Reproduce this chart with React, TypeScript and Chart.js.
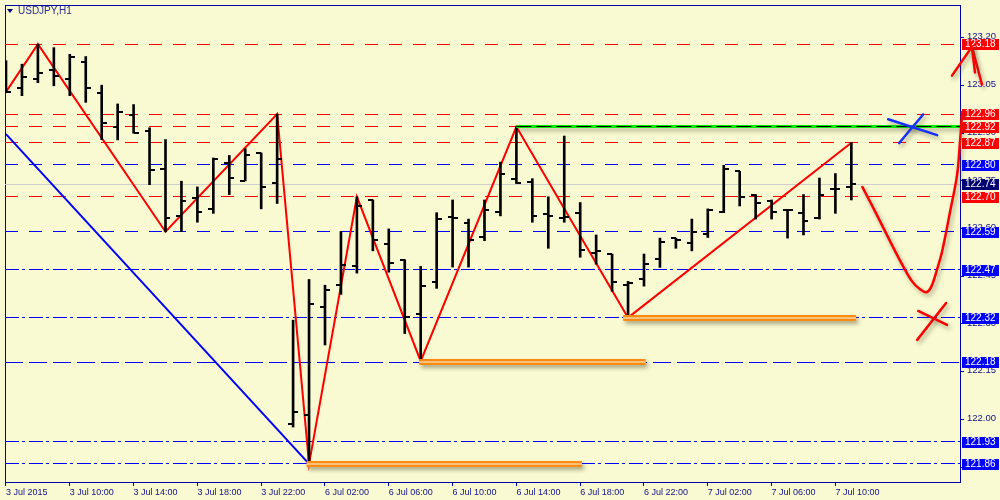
import React, { useEffect, useRef } from 'react';
import { Chart, registerables } from 'chart.js';

Chart.register(...registerables);

// ---------- DATA ----------
const BAR_TIMES = [
  '3 Jul 06:00', '3 Jul 07:00', '3 Jul 08:00', '3 Jul 09:00', '3 Jul 10:00', '3 Jul 11:00',
  '3 Jul 12:00', '3 Jul 13:00', '3 Jul 14:00', '3 Jul 15:00', '3 Jul 16:00', '3 Jul 17:00',
  '3 Jul 18:00', '3 Jul 19:00', '3 Jul 20:00', '3 Jul 21:00', '3 Jul 22:00', '3 Jul 23:00',
  '6 Jul 00:00', '6 Jul 01:00', '6 Jul 02:00', '6 Jul 03:00', '6 Jul 04:00', '6 Jul 05:00',
  '6 Jul 06:00', '6 Jul 07:00', '6 Jul 08:00', '6 Jul 09:00', '6 Jul 10:00', '6 Jul 11:00',
  '6 Jul 12:00', '6 Jul 13:00', '6 Jul 14:00', '6 Jul 15:00', '6 Jul 16:00', '6 Jul 17:00',
  '6 Jul 18:00', '6 Jul 19:00', '6 Jul 20:00', '6 Jul 21:00', '6 Jul 22:00', '6 Jul 23:00',
  '7 Jul 00:00', '7 Jul 01:00', '7 Jul 02:00', '7 Jul 03:00', '7 Jul 04:00', '7 Jul 05:00',
  '7 Jul 06:00', '7 Jul 07:00', '7 Jul 08:00', '7 Jul 09:00', '7 Jul 10:00', '7 Jul 11:00',
];

const OPEN = [
  123.091, 123.042, 123.070, 123.098, 123.070, 123.125, 123.025, 122.919, 122.958, 122.906,
  122.788, 122.641, 122.697, 122.663, 122.807, 122.750, 122.838, 122.742, 121.987, 122.015,
  122.354, 122.424, 122.481, 122.690, 122.551, 122.502, 122.332, 122.432, 122.638, 122.619,
  122.572, 122.651, 122.757, 122.747, 122.646, 122.632, 122.648, 122.523, 122.520, 122.424,
  122.442, 122.505, 122.570, 122.554, 122.582, 122.651, 122.780, 122.707, 122.688, 122.660,
  122.648, 122.632, 122.723, 122.731,
];
const HIGH = [
  123.128, 123.117, 123.180, 123.169, 123.148, 123.141, 123.051, 122.992, 122.990, 122.917,
  122.880, 122.749, 122.731, 122.822, 122.830, 122.851, 122.838, 122.960, 122.312, 122.440,
  122.422, 122.591, 122.700, 122.690, 122.599, 122.502, 122.481, 122.650, 122.690, 122.630,
  122.690, 122.809, 122.920, 122.757, 122.700, 122.891, 122.682, 122.580, 122.520, 122.434,
  122.520, 122.570, 122.570, 122.630, 122.662, 122.799, 122.780, 122.707, 122.690, 122.660,
  122.707, 122.759, 122.773, 122.870,
];
const LOW = [
  123.028, 123.018, 123.059, 123.049, 123.018, 122.997, 122.880, 122.879, 122.900, 122.738,
  122.590, 122.591, 122.620, 122.648, 122.707, 122.750, 122.662, 122.679, 121.976, 121.860,
  122.234, 122.393, 122.460, 122.530, 122.463, 122.270, 122.183, 122.412, 122.479, 122.479,
  122.562, 122.640, 122.742, 122.620, 122.538, 122.620, 122.510, 122.488, 122.403, 122.320,
  122.419, 122.478, 122.538, 122.530, 122.572, 122.650, 122.671, 122.630, 122.630, 122.570,
  122.580, 122.630, 122.648, 122.690,
];
const CLOSE = [
  123.031, 123.077, 123.088, 123.080, 123.140, 123.042, 122.932, 122.966, 122.900, 122.783,
  122.632, 122.688, 122.651, 122.820, 122.759, 122.830, 122.731, 122.820, 122.023, 122.362,
  122.408, 122.487, 122.672, 122.563, 122.492, 122.323, 122.419, 122.629, 122.632, 122.563,
  122.660, 122.771, 122.742, 122.641, 122.641, 122.638, 122.533, 122.528, 122.432, 122.429,
  122.488, 122.559, 122.565, 122.588, 122.660, 122.788, 122.700, 122.682, 122.651, 122.660,
  122.624, 122.707, 122.723, 122.740,
];

const X_TICK_INDEX = [0, 4, 8, 12, 16, 20, 24, 28, 32, 36, 40, 44, 48, 52];
const X_TICK_LABELS = [
  '3 Jul 2015', '3 Jul 10:00', '3 Jul 14:00', '3 Jul 18:00', '3 Jul 22:00', '6 Jul 02:00',
  '6 Jul 06:00', '6 Jul 10:00', '6 Jul 14:00', '6 Jul 18:00', '6 Jul 22:00', '7 Jul 02:00',
  '7 Jul 06:00', '7 Jul 10:00',
];
const Y_TICKS = [123.2, 123.05, 122.9, 122.75, 122.6, 122.45, 122.3, 122.15, 122.0, 121.85];

// horizontal levels
const RED_LEVELS = [123.18, 122.96, 122.92, 122.87, 122.7];
const BLUE_DASH_LEVELS = [122.8, 122.59];
const BLUE_LONGDASH_LEVELS = [122.18];
const BLUE_DASHDOT_LEVELS = [122.47, 122.32, 121.93, 121.86];
const BID_PRICE = 122.74;

// zigzag
const ZIGZAG_IDX = [0, 2, 10, 17, 19, 22, 26, 32, 39, 53];
const ZIGZAG_PRICE = [123.03, 123.18, 122.59, 122.96, 121.86, 122.7, 122.183, 122.92, 122.32, 122.87];

// blue trend line
const TREND_IDX = [0, 19];
const TREND_PRICE = [122.897, 121.86];

// green/black resistance line
const GREEN_FROM = 32;
const GREEN_PRICE = 122.92;

// orange support bars
const ORANGE_PRICE = [121.86, 122.18, 122.32];
const ORANGE_FROM = [18.85, 25.9, 38.7];
const ORANGE_TO = [36.1, 40.1, 53.3];

// hand-drawn annotations (bar index, price)
const CURVE_IDX = [53.69, 54.56, 55.44, 56.25, 56.81, 57.31, 57.69, 58.0, 58.375, 58.69, 59.19, 59.63, 59.81, 59.94, 60.0, 60.19, 60.56];
const CURVE_PRICE = [122.731, 122.647, 122.559, 122.481, 122.434, 122.409, 122.4, 122.416, 122.472, 122.528, 122.653, 122.769, 122.872, 122.966, 123.05, 123.122, 123.172];
const ARROW_L_IDX = [59.31, 60.56];
const ARROW_L_PRICE = [123.081, 123.172];
const ARROW_R_IDX = [60.56, 60.75];
const ARROW_R_PRICE = [123.172, 123.091];
const ARROW_R2_IDX = [60.56, 61.19];
const ARROW_R2_PRICE = [123.172, 123.053];
const RED_X1_IDX = [57.19, 59.0];
const RED_X1_PRICE = [122.341, 122.297];
const RED_X2_IDX = [57.13, 58.94];
const RED_X2_PRICE = [122.25, 122.366];
const BLUE_X1_IDX = [55.31, 58.38];
const BLUE_X1_PRICE = [122.944, 122.894];
const BLUE_X2_IDX = [56.0, 57.5];
const BLUE_X2_PRICE = [122.869, 122.959];

const X_MIN = -0.0625;
const X_MAX = 59.8125;
const Y_MIN = 121.803125;
const Y_MAX = 123.303125;

// ---------- STYLE ----------
const BG = '#FAFAD2';
const NAVY = '#10108C';
const FONT = 'Liberation Sans';

const pts = (xs: number[], ys: number[]) => xs.map((x, i) => ({ x, y: ys[i] }));

export default function App() {
  const ref = useRef<HTMLCanvasElement>(null);

  useEffect(() => {
    const canvas = ref.current;
    if (!canvas) return;

    const mkTick = (left: boolean) => {
      const c = document.createElement('canvas');
      c.width = 10;
      c.height = 2;
      const g = c.getContext('2d')!;
      g.fillStyle = '#000';
      if (left) g.fillRect(0, 0, 5, 2);
      else g.fillRect(5, 0, 5, 2);
      return c;
    };
    const openImg = mkTick(true);
    const closeImg = mkTick(false);

    const lineBase = {
      type: 'line' as const,
      pointRadius: 0,
      fill: false,
      tension: 0,
      borderCapStyle: 'butt' as const,
    };

    const level = (p: number, color: string, dash: number[]) => ({
      ...lineBase,
      data: [{ x: X_MIN, y: p }, { x: X_MAX, y: p }],
      borderColor: color,
      borderWidth: 1,
      borderDash: dash,
      snapY: p,
    });

    const annot = (xs: number[], ys: number[], color: string, w: number, tension = 0) => ({
      ...lineBase,
      data: pts(xs, ys),
      borderColor: color,
      borderWidth: w,
      tension,
      clip: false,
      borderCapStyle: 'round' as const,
      shadow: true,
    });

    const datasets: any[] = [
      annot(CURVE_IDX, CURVE_PRICE, '#FF0000', 2.5, 0.35),
      annot(ARROW_L_IDX, ARROW_L_PRICE, '#FF0000', 2.5),
      annot(ARROW_R_IDX, ARROW_R_PRICE, '#FF0000', 2.5),
      annot(ARROW_R2_IDX, ARROW_R2_PRICE, '#FF0000', 2.5),
      annot(RED_X1_IDX, RED_X1_PRICE, '#FF0000', 2.5),
      annot(RED_X2_IDX, RED_X2_PRICE, '#FF0000', 2.5),
      annot(BLUE_X1_IDX, BLUE_X1_PRICE, '#1530FF', 2.5),
      annot(BLUE_X2_IDX, BLUE_X2_PRICE, '#1530FF', 2.5),
    ];

    ORANGE_PRICE.forEach((p, i) => {
      datasets.push({
        ...lineBase,
        data: [{ x: ORANGE_FROM[i], y: p }, { x: ORANGE_TO[i], y: p }],
        borderColor: '#F7C27E',
        borderWidth: 2,
        snapY: p,
      });
    });
    ORANGE_PRICE.forEach((p, i) => {
      datasets.push({
        ...lineBase,
        data: [{ x: ORANGE_FROM[i], y: p }, { x: ORANGE_TO[i], y: p }],
        borderColor: '#FF8A10',
        borderWidth: 6,
        shadow: true,
        snapY: p,
      });
    });

    datasets.push({
      ...lineBase,
      data: [{ x: GREEN_FROM, y: GREEN_PRICE }, { x: X_MAX, y: GREEN_PRICE }],
      borderColor: '#000000',
      borderWidth: 1,
      borderDash: [15, 5],
      snapY: GREEN_PRICE,
    });
    datasets.push({
      ...lineBase,
      data: [{ x: GREEN_FROM, y: GREEN_PRICE }, { x: X_MAX, y: GREEN_PRICE }],
      borderColor: '#00F000',
      borderWidth: 3,
      shadow: true,
      snapY: GREEN_PRICE,
    });

    datasets.push({
      type: 'line',
      showLine: false,
      data: OPEN.map((o, i) => ({ x: i, y: o })),
      pointStyle: openImg,
      pointRadius: 3,
      crisp: true,
    });
    datasets.push({
      type: 'line',
      showLine: false,
      data: CLOSE.map((c, i) => ({ x: i, y: c })),
      pointStyle: closeImg,
      pointRadius: 3,
      crisp: true,
    });
    datasets.push({
      type: 'bar',
      data: LOW.map((l, i) => ({ x: i, y: [l, HIGH[i]] })),
      backgroundColor: '#000000',
      borderWidth: 0,
      barThickness: 2,
      grouped: false,
    });

    datasets.push({
      ...lineBase,
      data: pts(ZIGZAG_IDX, ZIGZAG_PRICE),
      borderColor: '#FF0000',
      borderWidth: 2,
    });
    datasets.push({
      ...lineBase,
      data: pts(TREND_IDX, TREND_PRICE),
      borderColor: '#0000FF',
      borderWidth: 2,
    });

    RED_LEVELS.forEach((p) => datasets.push(level(p, '#FF0000', [13, 11])));
    BLUE_DASH_LEVELS.forEach((p) => datasets.push(level(p, '#0000FF', [13, 11])));
    BLUE_LONGDASH_LEVELS.forEach((p) => datasets.push(level(p, '#0000FF', [18, 6])));
    BLUE_DASHDOT_LEVELS.forEach((p) => datasets.push(level(p, '#0000FF', [14, 3, 3, 4])));
    datasets.push(level(BID_PRICE, '#CDCDCD', []));

    const tags: [number, string][] = [
      ...RED_LEVELS.map((p) => [p, '#FF0000'] as [number, string]),
      ...BLUE_DASH_LEVELS.map((p) => [p, '#0000FF'] as [number, string]),
      ...BLUE_LONGDASH_LEVELS.map((p) => [p, '#0000FF'] as [number, string]),
      ...BLUE_DASHDOT_LEVELS.map((p) => [p, '#0000FF'] as [number, string]),
      [BID_PRICE, '#000070'],
    ];

    const chartPlugins: any[] = [
      {
        id: 'bg',
        beforeDraw(chart: any) {
          const ctx = chart.ctx;
          ctx.save();
          ctx.fillStyle = BG;
          ctx.fillRect(0, 0, chart.width, chart.height);
          ctx.restore();
        },
      },
      {
        id: 'frameTags',
        beforeDatasetsDraw(chart: any) {
          const ctx = chart.ctx;
          const a = chart.chartArea;
          const ys = chart.scales.y;
          ctx.save();
          ctx.strokeStyle = '#0000A8';
          ctx.lineWidth = 1;
          ctx.strokeRect(a.left + 0.5, a.top + 0.5, a.right - a.left, a.bottom - a.top);
          ctx.font = `10px "${FONT}"`;
          ctx.textBaseline = 'middle';
          ctx.textAlign = 'left';
          tags.forEach(([p, color]) => {
            const py = Math.round(ys.getPixelForValue(p));
            ctx.fillStyle = color;
            ctx.fillRect(a.right + 2, py - 5, 37, 11);
            ctx.fillStyle = '#FFFFFF';
            ctx.fillText(p.toFixed(2), a.right + 5, py + 0.5);
          });
          ctx.restore();
        },
      },
      {
        id: 'shadowCrispSnap',
        beforeDatasetDraw(chart: any, args: any) {
          const ds = chart.data.datasets[args.index];
          if (ds.shadow || ds.crisp || ds.snapY !== undefined) {
            const ctx = chart.ctx;
            ctx.save();
            if (ds.shadow) {
              ctx.shadowColor = 'rgba(70,70,40,0.45)';
              ctx.shadowBlur = 4;
              ctx.shadowOffsetX = 2;
              ctx.shadowOffsetY = 3;
            }
            if (ds.crisp) ctx.imageSmoothingEnabled = false;
            if (ds.snapY !== undefined) {
              const py = chart.scales.y.getPixelForValue(ds.snapY);
              const w = ds.borderWidth || 1;
              const target = w % 2 === 1 ? Math.round(py - 0.5) + 0.5 : Math.round(py);
              ctx.translate(0, target - py);
            }
          }
        },
        afterDatasetDraw(chart: any, args: any) {
          const ds = chart.data.datasets[args.index];
          if (ds.shadow || ds.crisp || ds.snapY !== undefined) chart.ctx.restore();
        },
      },
      {
        id: 'title',
        afterDraw(chart: any) {
          const ctx = chart.ctx;
          ctx.save();
          ctx.fillStyle = '#000070';
          ctx.beginPath();
          ctx.moveTo(7, 9);
          ctx.lineTo(13, 9);
          ctx.lineTo(10, 13);
          ctx.closePath();
          ctx.fill();
          ctx.fillStyle = '#2A2A90';
          ctx.font = `10px "${FONT}"`;
          ctx.textBaseline = 'middle';
          ctx.fillText('USDJPY,H1', 18, 11);
          ctx.restore();
        },
      },
    ];

    const zeroPad = (s: any) => {
      s.paddingLeft = 0;
      s.paddingRight = 0;
      s.paddingTop = 0;
      s.paddingBottom = 0;
    };

    const chart = new Chart(canvas, {
      type: 'line',
      data: { labels: BAR_TIMES, datasets },
      options: {
        responsive: false,
        animation: false,
        events: [],
        layout: { padding: { left: 2, top: 2, right: 0, bottom: 0 } },
        plugins: { legend: { display: false }, tooltip: { enabled: false }, title: { display: false } },
        scales: {
          x: {
            type: 'linear',
            min: X_MIN,
            max: X_MAX,
            offset: false,
            grid: { drawOnChartArea: false, offset: false, tickLength: 4, color: '#0000A8' },
            border: { display: false },
            afterBuildTicks: (s: any) => {
              s.ticks = X_TICK_INDEX.map((v) => ({ value: v }));
            },
            afterFit: (s: any) => {
              s.height = 18;
              zeroPad(s);
            },
            ticks: {
              autoSkip: false,
              maxRotation: 0,
              minRotation: 0,
              align: 'start',
              padding: 1,
              color: NAVY,
              font: { family: FONT, size: 9 },
              callback: (_v: any, i: number) => X_TICK_LABELS[i],
            },
          },
          y: {
            type: 'linear',
            position: 'right',
            min: Y_MIN,
            max: Y_MAX,
            beginAtZero: false,
            grid: { drawOnChartArea: false, tickLength: 4, color: '#0000A8' },
            border: { display: false },
            afterBuildTicks: (s: any) => {
              s.ticks = Y_TICKS.map((v) => ({ value: v }));
            },
            afterFit: (s: any) => {
              s.width = 40;
              zeroPad(s);
            },
            ticks: {
              padding: 3,
              labelOffset: -1,
              color: NAVY,
              font: { family: FONT, size: 9.5 },
              callback: (v: any) => Number(v).toFixed(2),
            },
          },
        },
      } as any,
      plugins: chartPlugins,
    });

    return () => chart.destroy();
  }, []);

  return (
    <div style={{ position: 'fixed', left: 0, top: 0, width: 1000, height: 500 }}>
      <canvas ref={ref} width={1000} height={500} style={{ display: 'block' }} />
    </div>
  );
}
